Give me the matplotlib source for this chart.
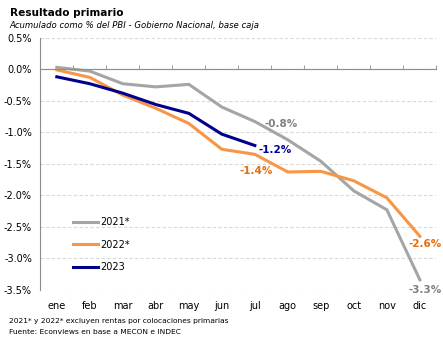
import matplotlib.pyplot as plt
from matplotlib.ticker import FuncFormatter, MultipleLocator, FixedLocator

meses = ['ene', 'feb', 'mar', 'abr', 'may', 'jun', 'jul', 'ago', 'sep', 'oct', 'nov', 'dic']

# resultado primario acumulado, % del PBI
r2021 = [0.03, -0.03, -0.23, -0.28, -0.24, -0.60, -0.83, -1.12, -1.46, -1.93, -2.23, -3.34]
r2022 = [-0.01, -0.13, -0.41, -0.62, -0.86, -1.27, -1.35, -1.63, -1.62, -1.77, -2.04, -2.65]
r2023 = [-0.12, -0.23, -0.38, -0.56, -0.70, -1.03, -1.21]

c21 = '#a5a5a5'
c22 = '#f79646'
c23 = '#00008b'

fig = plt.figure(figsize=(4.43, 3.41), dpi=100)
ax = fig.add_axes([0.091, 0.150, 0.894, 0.7394])

x = list(range(len(meses)))
ax.plot(x, r2021, color=c21, lw=2.2, label='2021*', solid_joinstyle='miter')
ax.plot(x, r2022, color=c22, lw=2.2, label='2022*', solid_joinstyle='miter')
ax.plot(range(len(r2023)), r2023, color=c23, lw=2.2, label='2023', solid_joinstyle='miter')

# etiquetas de valor
ax.text(6.3, r2021[6] - 0.04, f'{r2021[6]:.1f}%', color='#808080', fontsize=7.5, fontweight='bold', va='center')
ax.text(6.1, r2023[6] - 0.07, f'{r2023[6]:.1f}%', color='#000099', fontsize=7.5, fontweight='bold', va='center')
ax.text(5.55, r2022[6] - 0.26, f'{r2022[6]:.1f}%', color='#e46c0a', fontsize=7.5, fontweight='bold', va='center')
ax.text(10.65, r2022[11] - 0.12, f'{r2022[11]:.1f}%', color='#e46c0a', fontsize=7.5, fontweight='bold', va='center')
ax.text(10.65, r2021[11] - 0.17, f'{r2021[11]:.1f}%', color='#808080', fontsize=7.5, fontweight='bold', va='center')

ax.set_xlim(-0.5, 11.5)
ax.set_ylim(-3.5, 0.5)
ax.yaxis.set_major_locator(MultipleLocator(0.5))
ax.yaxis.set_major_formatter(FuncFormatter(lambda v, p: f'{v:.1f}%'))
ax.grid(axis='y', color='#d9d9d9', ls=(0, (3, 2)), lw=0.8)
ax.set_axisbelow(True)

# eje de categorias cruzando en cero, etiquetas abajo
ax.set_xticks(x)
ax.set_xticklabels(meses)
ax.xaxis.set_minor_locator(FixedLocator([i + 0.5 for i in range(-1, 12)]))
ax.spines['top'].set_position(('data', 0))
ax.spines['top'].set_color('#8c8c8c')
ax.spines['bottom'].set_visible(False)
ax.spines['right'].set_visible(False)
ax.spines['left'].set_color('#8c8c8c')
ax.tick_params(axis='x', which='major', length=0, labelsize=7, pad=8, top=False, bottom=True)
ax.tick_params(axis='x', which='minor', top=True, bottom=False, direction='out', length=3, color='#8c8c8c')
ax.tick_params(axis='y', length=0, labelsize=7, pad=6)

leg = ax.legend(loc='lower left', bbox_to_anchor=(0.06, 0.035), frameon=False, fontsize=7,
                handlelength=2.6, labelspacing=1.3, handletextpad=0.2)

fig.text(0.022, 0.962, 'Resultado primario', fontsize=7.6, fontweight='bold', va='center')
fig.text(0.022, 0.925, 'Acumulado como % del PBI - Gobierno Nacional, base caja', fontsize=6.1,
         style='italic', va='center')
fig.text(0.02, 0.060, '2021* y 2022* excluyen rentas por colocaciones primarias', fontsize=5.4, va='center')
fig.text(0.02, 0.026, 'Fuente: Econviews en base a MECON e INDEC', fontsize=5.4, va='center')

plt.savefig('out.png', dpi=100)
plt.close()
